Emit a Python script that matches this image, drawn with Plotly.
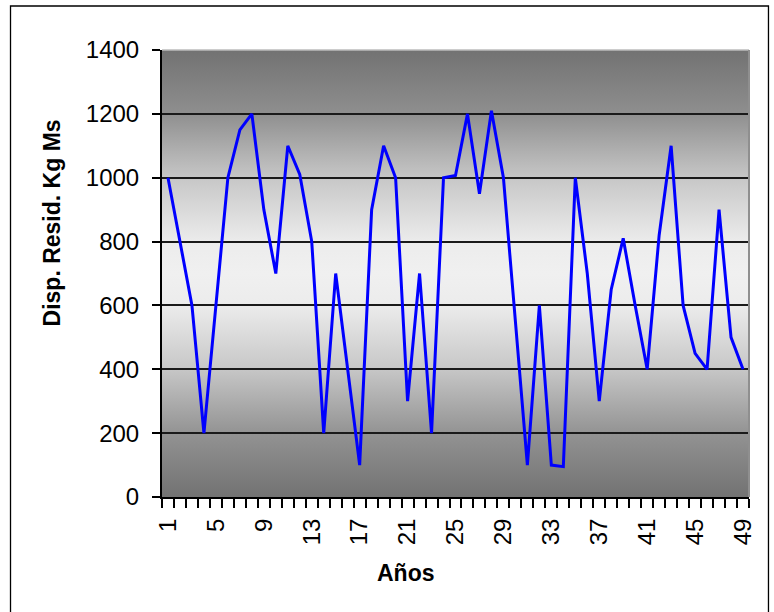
import base64
import plotly.graph_objects as go

# ---- data ----
years = list(range(1, 50))
values = [1000, 800, 600, 200, 600, 1000, 1150, 1200, 900, 700,
          1100, 1010, 800, 200, 700, 400, 100, 900, 1100, 1000,
          300, 700, 200, 1000, 1007, 1200, 950, 1210, 1000, 550,
          100, 600, 100, 95, 1000, 700, 300, 650, 810, 600,
          400, 820, 1100, 600, 450, 400, 900, 500, 400]
x_tick_labels = [str(v) for v in range(1, 50, 4)]
y_title = "Disp. Resid. Kg Ms"
x_title = "Años"

Y_MIN, Y_MAX, Y_STEP = 0, 1400, 200

# ---- layout geometry (pixels) ----
W, H = 774, 612
L, R, T, B = 161.7, 24.5, 50, 115
PW, PH = W - L - R, H - T - B


def px_to_paper(px, py):
    return (px - L) / PW, (H - B - py) / PH


# vertical background gradient (offset from top -> grey level)
stops = [(0.0, 0x72), (0.14, 0x8e), (0.29, 0xc8), (0.43, 0xec), (0.5, 0xf0),
         (0.57, 0xec), (0.71, 0xc8), (0.86, 0x92), (1.0, 0x72)]
stop_xml = "".join(
    f'<stop offset="{o}" stop-color="#{c:02x}{c:02x}{c:02x}"/>' for o, c in stops)
svg = ('<svg xmlns="http://www.w3.org/2000/svg" width="100" height="100" '
       'preserveAspectRatio="none" viewBox="0 0 100 100">'
       '<defs><linearGradient id="g" x1="0" y1="0" x2="0" y2="1">'
       f'{stop_xml}</linearGradient></defs>'
       '<rect x="0" y="0" width="100" height="100" fill="url(#g)"/></svg>')
svg_uri = "data:image/svg+xml;base64," + base64.b64encode(svg.encode()).decode()

shapes = []
# plot-area top/right edges (grey)
shapes.append(dict(type="line", xref="paper", yref="paper", x0=0, x1=1, y0=1, y1=1,
                   line=dict(color="#bdbdbd", width=1.5), layer="above"))
shapes.append(dict(type="line", xref="paper", yref="paper", x0=1, x1=1, y0=0, y1=1,
                   line=dict(color="#8f8f8f", width=2), layer="above"))

# outer chart border
bx0, by0 = px_to_paper(10, 6)
bx1, by1 = px_to_paper(769, 620)
shapes.append(dict(type="rect", xref="paper", yref="paper", x0=bx0, x1=bx1, y0=by1, y1=by0,
                   line=dict(color="black", width=1.3), fillcolor="rgba(0,0,0,0)", layer="above"))

fig = go.Figure()
fig.add_trace(go.Scatter(x=years, y=values, mode="lines",
                         line=dict(color="#0000ff", width=3), showlegend=False))

font_family = "Liberation Sans, Arial, sans-serif"

ax, ay = px_to_paper(52, 223)
tx, ty = px_to_paper(406, 573)
annotations = [
    dict(text=f"<b>{y_title}</b>", x=ax, y=ay, xref="paper", yref="paper",
         textangle=-90, showarrow=False, font=dict(size=23, color="black", family=font_family),
         xanchor="center", yanchor="middle"),
    dict(text=f"<b>{x_title}</b>", x=tx, y=ty, xref="paper", yref="paper",
         showarrow=False, font=dict(size=23, color="black", family=font_family),
         xanchor="center", yanchor="middle"),
]

fig.update_layout(
    width=W, height=H,
    margin=dict(l=L, r=R, t=T, b=B, pad=0),
    paper_bgcolor="white",
    plot_bgcolor="rgba(0,0,0,0)",
    font=dict(family=font_family, color="black", size=24),
    shapes=shapes,
    annotations=annotations,
    images=[dict(source=svg_uri, xref="paper", yref="paper", x=0, y=1,
                 sizex=1, sizey=1, sizing="stretch", xanchor="left", yanchor="top",
                 layer="below")],
    xaxis=dict(
        range=[0.5, 49.5],
        tickmode="array",
        tickvals=list(range(1, 50, 4)),
        ticktext=x_tick_labels,
        tickangle=-90,
        ticks="outside", ticklen=10, tickcolor="rgba(0,0,0,0)",
        minor=dict(tickmode="linear", tick0=0.5, dtick=1, ticks="outside",
                   ticklen=9, tickcolor="black", tickwidth=1.5, showgrid=False),
        showgrid=False, zeroline=False,
        showline=True, linecolor="black", linewidth=2,
        tickfont=dict(size=24),
    ),
    yaxis=dict(
        range=[Y_MIN, Y_MAX],
        tickmode="linear", tick0=Y_MIN, dtick=Y_STEP,
        ticks="outside", ticklen=8, tickcolor="black", tickwidth=1.5,
        showgrid=True, gridcolor="#1a1a1a", gridwidth=1.5,
        zeroline=False,
        showline=True, linecolor="black", linewidth=2,
        tickfont=dict(size=24),
        ticklabelstandoff=8,
    ),
)

fig.write_html("out.html")
